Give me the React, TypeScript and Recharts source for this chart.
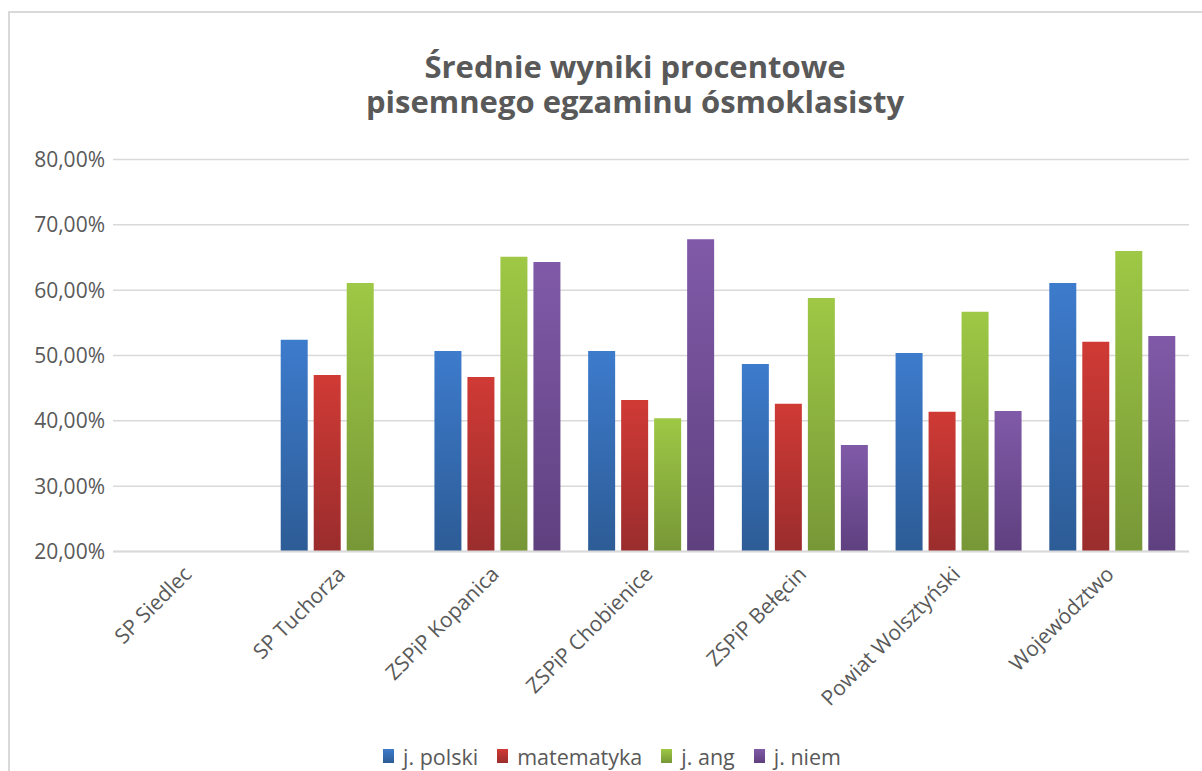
import React from "react";
import { Bar, BarChart, CartesianGrid, Legend, XAxis, YAxis } from "recharts";

const schools = [
  "SP Siedlec",
  "SP Tuchorza",
  "ZSPiP Kopanica",
  "ZSPiP Chobienice",
  "ZSPiP Bełęcin",
  "Powiat Wolsztyński",
  "Województwo",
];

const polski = [null, 52.4, 50.7, 50.7, 48.7, 50.4, 61.1];
const matematyka = [null, 47.0, 46.7, 43.2, 42.6, 41.4, 52.1];
const angielski = [null, 61.1, 65.1, 40.4, 58.8, 56.7, 66.0];
const niemiecki = [null, null, 64.3, 67.8, 36.3, 41.5, 53.0];

const yTicks = [20, 30, 40, 50, 60, 70, 80];

const series = [
  { key: "polski", name: "j. polski", grad: "gPolski", top: "#3d7bcc", bottom: "#2d5c96" },
  { key: "matematyka", name: "matematyka", grad: "gMat", top: "#d03a35", bottom: "#9a2d2d" },
  { key: "ang", name: "j. ang", grad: "gAng", top: "#9ec845", bottom: "#779737" },
  { key: "niem", name: "j. niem", grad: "gNiem", top: "#805aa8", bottom: "#5f407f" },
];

const data = schools.map((name, i) => ({
  name,
  polski: polski[i],
  matematyka: matematyka[i],
  ang: angielski[i],
  niem: niemiecki[i],
}));

const FONT = "'Open Sans', sans-serif";
const GREY = "#595959";

const pct = (v: number) => `${v.toFixed(2).replace(".", ",")}%`;

function SchoolTick({ x, y, payload }: any) {
  return (
    <g transform={`translate(${x + 3},${y + 16})`}>
      <text textAnchor="end" transform="rotate(-45)" fill={GREY} fontSize={21} fontFamily={FONT}>
        {payload.value}
      </text>
    </g>
  );
}

function LegendBox() {
  return (
    <div style={{ display: "flex", alignItems: "center", height: 30, fontFamily: FONT, fontSize: 21.5, color: GREY }}>
      {series.map((s) => (
        <div key={s.key} style={{ display: "flex", alignItems: "center", marginRight: 19 }}>
          <span
            style={{
              display: "inline-block",
              width: 11,
              height: 14,
              marginRight: 9,
              background: `linear-gradient(${s.top}, ${s.bottom})`,
            }}
          />
          <span>{s.name}</span>
        </div>
      ))}
    </div>
  );
}

export default function App() {
  return (
    <div
      style={{
        position: "fixed",
        left: 8,
        top: 11,
        width: 1194,
        height: 760,
        overflow: "hidden",
        borderTop: "2px solid #d9d9d9",
        borderLeft: "2px solid #d9d9d9",
        background: "#fff",
      }}
    >
      <div
        style={{
          position: "absolute",
          left: 225,
          top: 36,
          width: 800,
          textAlign: "center",
          fontFamily: FONT,
          fontWeight: 700,
          fontSize: 31,
          lineHeight: "35px",
          color: GREY,
        }}
      >
        Średnie wyniki procentowe
        <br />
        pisemnego egzaminu ósmoklasisty
      </div>
      <BarChart
        width={1192}
        height={758}
        data={data}
        margin={{ top: 146.5, right: 13, bottom: 0, left: 0 }}
        barSize={27}
        barGap={6}
      >
        <defs>
          {series.map((s) => (
            <linearGradient key={s.grad} id={s.grad} x1="0" y1="0" x2="0" y2="1">
              <stop offset="0%" stopColor={s.top} />
              <stop offset="100%" stopColor={s.bottom} />
            </linearGradient>
          ))}
        </defs>
        <CartesianGrid vertical={false} stroke="#d9d9d9" strokeWidth={1.5} />
        <XAxis
          dataKey="name"
          height={189.5}
          interval={0}
          tickLine={false}
          axisLine={{ stroke: "#d9d9d9", strokeWidth: 2 }}
          tick={<SchoolTick />}
        />
        <YAxis
          width={103}
          domain={[20, 80]}
          ticks={yTicks}
          tickFormatter={pct}
          tickLine={false}
          axisLine={false}
          tick={{ fill: GREY, fontSize: 21, fontFamily: FONT }}
        />
        <Legend
          verticalAlign="bottom"
          content={() => <LegendBox />}
          wrapperStyle={{ left: 373, bottom: 0, width: "auto" }}
        />
        {series.map((s) => (
          <Bar key={s.key} dataKey={s.key} name={s.name} fill={`url(#${s.grad})`} isAnimationActive={false} />
        ))}
      </BarChart>
    </div>
  );
}
